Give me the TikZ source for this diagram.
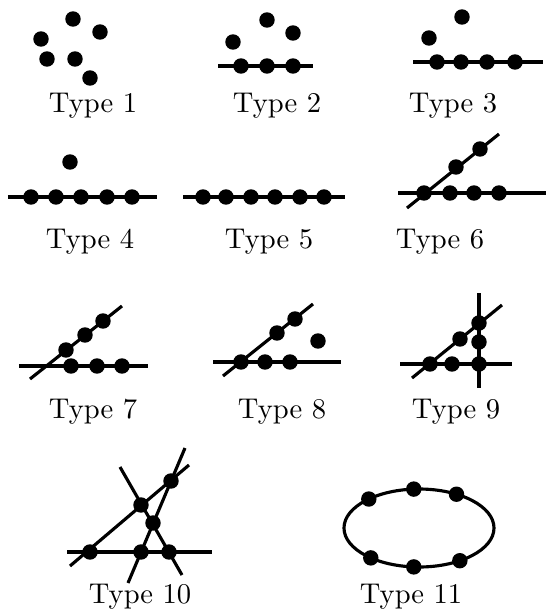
\documentclass[tikz,border=0pt]{standalone}
\usetikzlibrary{positioning,calc}
\begin{document}
\begin{tikzpicture}[x=0.35pt,y=-0.35pt,
    tydot/.style={circle,fill=black,inner sep=0pt,minimum size=5.4pt},
    tyline/.style={draw=black,line width=1.1pt},
    tylabel/.style={anchor=base,inner sep=0pt}
]
\useasboundingbox (0,0) rectangle (546,609);
% Type 1
\node[tydot] (p1a) at (73,19) {};
\node[tydot] (p1b) at (100,32) {};
\node[tydot] (p1c) at (41,39) {};
\node[tydot] (p1d) at (47,59) {};
\node[tydot] (p1e) at (75,59) {};
\node[tydot] (p1f) at (90,78) {};
\node[tylabel] (type1) at (93,112) {Type 1};
% Type 2
\coordinate (l2w) at (218,66);
\coordinate (l2e) at (313,66);
\draw[tyline] (l2w)--(l2e);
\node[tydot] (p2a) at (233,42) {};
\node[tydot] (p2b) at (267,20) {};
\node[tydot] (p2c) at (293,33) {};
\foreach \x/\n in {241/d,267/e,293/f}
    \node[tydot] (p2\n) at (\x,66) {};
\node[tylabel] (type2) at (277,112) {Type 2};
% Type 3
\coordinate (l3w) at (413,62);
\coordinate (l3e) at (543,62);
\draw[tyline] (l3w)--(l3e);
\node[tydot] (p3a) at (429,38) {};
\node[tydot] (p3b) at (462,17) {};
\foreach \x/\n in {437/c,461/d,487/e,515/f}
    \node[tydot] (p3\n) at (\x,62) {};
\node[tylabel] (type3) at (453,112) {Type 3};
% Type 4
\coordinate (l4w) at (8,197);
\coordinate (l4e) at (157,197);
\draw[tyline] (l4w)--(l4e);
\node[tydot] (p4a) at (70,162) {};
\foreach \x/\n in {31/b,56/c,81/d,107/e,132/f}
    \node[tydot] (p4\n) at (\x,197) {};
\node[tylabel] (type4) at (90,248) {Type 4};
% Type 5
\coordinate (l5w) at (183,197);
\coordinate (l5e) at (345,197);
\draw[tyline] (l5w)--(l5e);
\foreach \x/\n in {203/a,226/b,251/c,275/d,300/e,324/f}
    \node[tydot] (p5\n) at (\x,197) {};
\node[tylabel] (type5) at (269,248) {Type 5};
% Type 6
\coordinate (l6w) at (398,193);
\coordinate (l6e) at (546,193);
\coordinate (k6s) at (407,208);
\coordinate (k6n) at (499,134);
\draw[tyline] (l6w)--(l6e);
\draw[tyline] (k6s)--(k6n);
\foreach \x/\n in {424/a,450/b,474/c,499/d}
    \node[tydot] (p6\n) at (\x,193) {};
\node[tydot] (p6e) at (456,167) {};
\node[tydot] (p6f) at (480,149) {};
\node[tylabel] (type6) at (440,248) {Type 6};
% Type 7
\coordinate (l7w) at (19,366);
\coordinate (l7e) at (148,366);
\coordinate (k7s) at (30,379);
\coordinate (k7n) at (122,306);
\draw[tyline] (l7w)--(l7e);
\draw[tyline] (k7s)--(k7n);
\foreach \x/\n in {71/a,97/b,122/c}
    \node[tydot] (p7\n) at (\x,366) {};
\node[tydot] (p7d) at (66,350) {};
\node[tydot] (p7e) at (85,335) {};
\node[tydot] (p7f) at (103,321) {};
\node[tylabel] (type7) at (93,418) {Type 7};
% Type 8
\coordinate (l8w) at (213,362);
\coordinate (l8e) at (341,362);
\coordinate (k8s) at (223,376);
\coordinate (k8n) at (313,304);
\draw[tyline] (l8w)--(l8e);
\draw[tyline] (k8s)--(k8n);
\foreach \x/\n in {241/a,265/b,290/c}
    \node[tydot] (p8\n) at (\x,362) {};
\node[tydot] (p8d) at (277,333) {};
\node[tydot] (p8e) at (295,319) {};
\node[tydot] (p8f) at (318,341) {};
\node[tylabel] (type8) at (282,418) {Type 8};
% Type 9
\coordinate (l9w) at (400,364);
\coordinate (l9e) at (512,364);
\coordinate (v9n) at (479,293);
\coordinate (v9s) at (479,388);
\coordinate (k9s) at (412,378);
\coordinate (k9n) at (502,305);
\draw[tyline] (l9w)--(l9e);
\draw[tyline] (v9n)--(v9s);
\draw[tyline] (k9s)--(k9n);
\foreach \x/\n in {430/a,452/b,479/c}
    \node[tydot] (p9\n) at (\x,364) {};
\node[tydot] (p9d) at (479,342) {};
\node[tydot] (p9e) at (479,323) {};
\node[tydot] (p9f) at (460,339) {};
\node[tylabel] (type9) at (456,418) {Type 9};
% Type 10
\coordinate (l10w) at (67,552);
\coordinate (l10e) at (212,552);
\coordinate (a10s) at (70,566);
\coordinate (a10n) at (189,465);
\coordinate (b10n) at (120,467);
\coordinate (b10s) at (182,575);
\coordinate (c10s) at (128,583);
\coordinate (c10n) at (185,448);
\draw[tyline] (l10w)--(l10e);
\draw[tyline] (a10s)--(a10n);
\draw[tyline] (b10n)--(b10s);
\draw[tyline] (c10s)--(c10n);
\foreach \x/\n in {90/a,141/b,169/c}
    \node[tydot] (p10\n) at (\x,552) {};
\node[tydot] (p10d) at (141,505) {};
\node[tydot] (p10e) at (153,523) {};
\node[tydot] (p10f) at (171,481) {};
\node[tylabel] (type10) at (140,603) {Type 10};
% Type 11
\coordinate (ring) at (419,528);
\draw[tyline] (ring) ellipse [x radius=75, y radius=39];
\foreach \t/\n in {228/a,266/b,300/c,130/d,94/e,57/f}
    \node[tydot] (p11\n) at ($(ring)+(\t:75 and 39)$) {};
\node[tylabel] (type11) at (411,603) {Type 11};
\end{tikzpicture}
\end{document}
